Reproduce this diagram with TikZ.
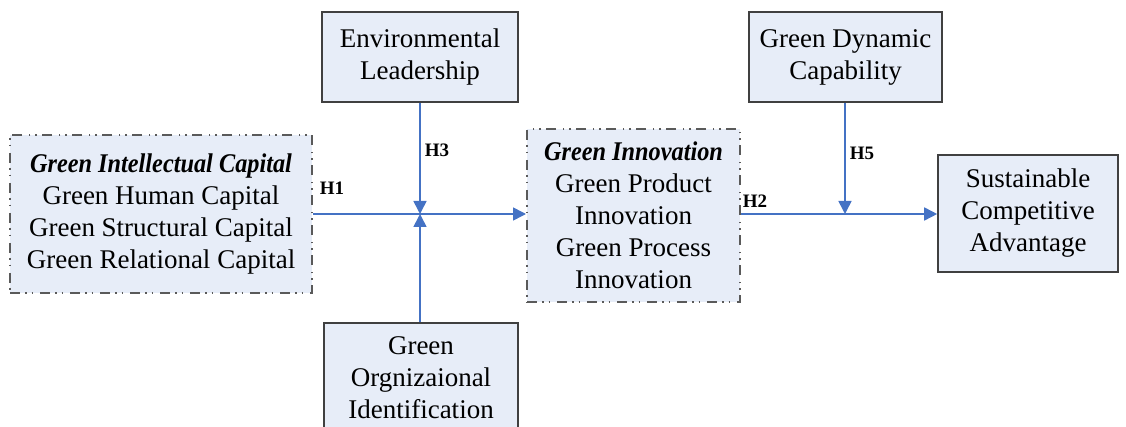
\documentclass[tikz,border=0pt]{standalone}
\usepackage{fontspec}
\usepackage{graphicx}
\setmainfont{Liberation Serif}
\usetikzlibrary{arrows.meta}
\definecolor{boxfill}{RGB}{231,237,248}
\definecolor{boxline}{RGB}{64,64,64}
\definecolor{dashline}{RGB}{90,90,90}
\definecolor{arrowblue}{RGB}{68,114,196}
\newcommand{\boxhead}[1]{\scalebox{0.9}[1]{\bfseries\itshape #1}}

\begin{document}
\begin{tikzpicture}
        [
        x=0.5pt, y=-0.5pt,
        box/.style={draw=boxline, line width=0.8pt, fill=boxfill, rectangle, align=center, inner sep=0pt, font=\fontsize{13.5}{16}\selectfont},
        dashbox/.style={box, draw=dashline, line width=1pt, dash pattern=on 5pt off 2.5pt on 0.8pt off 2.5pt on 0.8pt off 3.4pt},
        hlabel/.style={inner sep=0pt, font=\fontsize{9.5}{11}\selectfont\bfseries},
        arrow/.style={-{Triangle[length=6.5pt, width=6.5pt]}, draw=arrowblue, line width=0.8pt}
        ]

        \useasboundingbox (0,0) rectangle (1126,427);

        \node (gic) [dashbox, minimum width=151pt, minimum height=79pt] at (161,214)
            {\boxhead{Green Intellectual Capital}\\Green Human Capital\\Green Structural Capital\\Green Relational Capital};
        \node (gi) [dashbox, minimum width=106.5pt, minimum height=86.5pt] at (633.5,215.5)
            {\boxhead{Green Innovation}\\Green Product\\Innovation\\Green Process\\Innovation};
        \node (el) [box, minimum width=98pt, minimum height=45pt] at (420,57) {Environmental\\Leadership};
        \node (goi) [box, minimum width=97pt, minimum height=55pt] at (421,378) {Green\\Orgnizaional\\Identification};
        \node (gdc) [box, minimum width=96.5pt, minimum height=45pt] at (845.5,57) {Green Dynamic\\Capability};
        \node (sca) [box, minimum width=90pt, minimum height=58.5pt] at (1028,213.5) {Sustainable\\Competitive\\Advantage};

        \coordinate (j1) at (420,214);
        \coordinate (j2) at (845,214);

        % Edges
        \draw [arrow] (gic.east) -- (gic.east -| gi.west);
        \draw [arrow] (el.south) -- (j1);
        \draw [arrow] (goi.north -| j1) -- (j1);

        \draw [arrow] (gi.east |- j2) -- (sca.west |- j2);
        \draw [arrow] (gdc.south -| j2) -- (j2);

        % Hypotheses
        \node (h1) [hlabel] at (332,188) {H1};
        \node (h3) [hlabel] at (437,150) {H3};
        \node (h2) [hlabel] at (755,201) {H2};
        \node (h5) [hlabel] at (862,153) {H5};

    \end{tikzpicture}
\end{document}
